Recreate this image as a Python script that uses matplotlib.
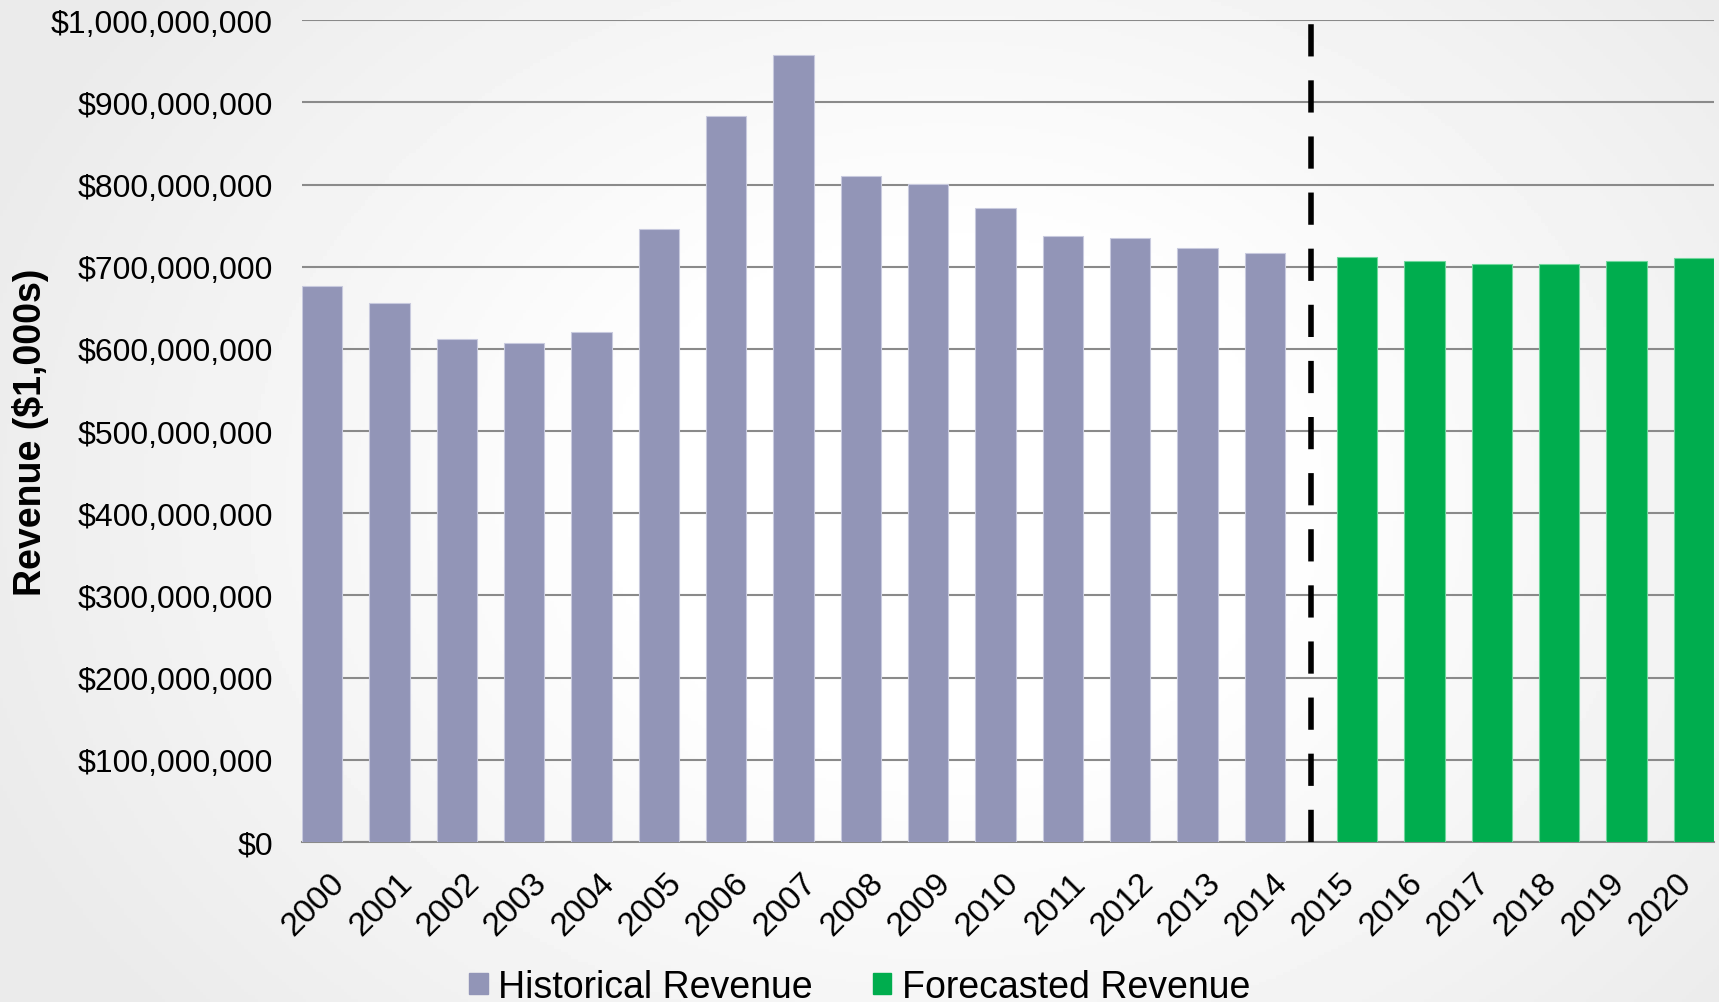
import numpy as np
import matplotlib
matplotlib.use('Agg')
import matplotlib.pyplot as plt
from matplotlib.patches import Patch
from matplotlib.ticker import FuncFormatter
from matplotlib.transforms import ScaledTranslation

plt.rcParams['font.family'] = ['Liberation Sans', 'DejaVu Sans']

# revenue by year
hist_years = ['2000', '2001', '2002', '2003', '2004', '2005', '2006', '2007',
              '2008', '2009', '2010', '2011', '2012', '2013', '2014']
hist_revenue = [677e6, 656e6, 612e6, 607e6, 621e6, 746e6, 884e6, 958e6,
                810e6, 801e6, 772e6, 737e6, 735e6, 723e6, 717e6]
fcst_years = ['2015', '2016', '2017', '2018', '2019', '2020']
fcst_revenue = [712e6, 707e6, 704e6, 704e6, 707e6, 711e6]

hist_color = '#9295b7'
fcst_color = '#00ad4e'

fig = plt.figure(figsize=(17.19, 10.03), dpi=100)

# soft radial background
bg = fig.add_axes([0, 0, 1, 1], zorder=-10)
yy, xx = np.mgrid[0:1:300j, 0:1:500j]
r = np.sqrt(((xx - 0.55) / 0.6) ** 2 + ((yy - 0.5) / 0.8) ** 2)
shade = 1 - 0.08 * np.clip((r - 0.3) / 0.7, 0, 1)
bg.imshow(shade, cmap='gray', vmin=0, vmax=1, extent=[0, 1, 0, 1],
          aspect='auto', origin='lower')
bg.axis('off')

ax = fig.add_axes([0.1757, 0.1595, 0.8214, 0.8193])
ax.patch.set_alpha(0)

# forecast bars sit a little further right, leaving room for the divider
gap = 0.37
xh = np.arange(len(hist_years))
xf = np.arange(len(fcst_years)) + len(hist_years) + gap
ax.bar(xh, hist_revenue, width=0.6, color=hist_color,
       edgecolor='#c8cade', linewidth=0.8, zorder=3)
ax.bar(xf, fcst_revenue, width=0.6, color=fcst_color,
       edgecolor='#6fd79c', linewidth=0.8, zorder=3)

# divider between history and forecast
xd = (xh[-1] + xf[0]) / 2
ax.plot([xd, xd], [0, 1e9], color='black', linewidth=4,
        dashes=(5.8, 4.3), zorder=4, solid_capstyle='butt')

ax.set_xlim(-0.3, xf[-1] + 0.3)
ax.set_ylim(0, 1e9)
ax.set_yticks(np.arange(0, 1.0e9 + 1, 1e8))
ax.yaxis.set_major_formatter(FuncFormatter(lambda v, p: '${:,.0f}'.format(v)))
ax.grid(axis='y', color='#8a8a8a', linewidth=1.5, zorder=1)
ax.set_axisbelow(True)

for s in ['left', 'right', 'top']:
    ax.spines[s].set_visible(False)
ax.spines['bottom'].set_color('#8a8a8a')
ax.spines['bottom'].set_linewidth(1.5)
ax.tick_params(axis='y', length=0, labelsize=23, colors='black', pad=21)

# year labels stay on an even spacing along the axis
years = hist_years + fcst_years
ax.set_xticks(np.arange(len(years)))
ax.set_xticklabels(years, rotation=45, ha='right', va='top',
                   rotation_mode='anchor')
ax.tick_params(axis='x', length=0, labelsize=24, colors='black', pad=18)
shift = ScaledTranslation(0.07, 0, fig.dpi_scale_trans)
for lbl in ax.get_xticklabels():
    lbl.set_transform(lbl.get_transform() + shift)

ax.set_ylabel('Revenue ($1,000s)', fontsize=27, fontweight='bold')
ax.yaxis.set_label_coords(-0.179, 0.5)

handles = [Patch(color=hist_color, label='Historical Revenue'),
           Patch(color=fcst_color, label='Forecasted Revenue')]
fig.legend(handles=handles, loc='center', bbox_to_anchor=(0.5, 0.015),
           ncol=2, frameon=False, fontsize=27, handlelength=0.5,
           handleheight=0.5, handletextpad=0.27, columnspacing=1.6)

fig.savefig('out.png', dpi=100)
